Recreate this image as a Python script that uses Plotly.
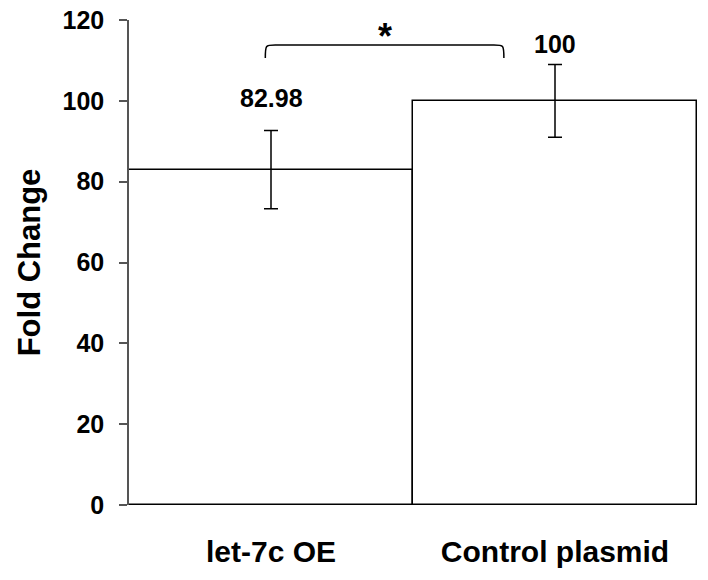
import plotly.graph_objects as go

# ---- data ----
categories = ["let-7c OE", "Control plasmid"]
fold_change = [82.98, 100]
errors = [9.7, 9.0]
value_labels = ["82.98", "100"]
y_ticks = [0, 20, 40, 60, 80, 100, 120]
significance = "*"

FONT = "Liberation Sans, Arial, sans-serif"

fig = go.Figure()
fig.add_trace(go.Bar(
    x=categories, y=fold_change,
    marker=dict(color="white", line=dict(color="black", width=1.5)),
    error_y=dict(type="data", array=errors, visible=True,
                 color="black", thickness=1.5, width=7),
    showlegend=False,
))

# value labels above error bars
label_shift = [16, 4]
for i, (c, v, e, t) in enumerate(zip(categories, fold_change, errors, value_labels)):
    fig.add_annotation(x=c, y=v + e, text=f"<b>{t}</b>", showarrow=False,
                       yanchor="bottom", yshift=label_shift[i],
                       font=dict(family=FONT, size=25, color="black"))

# significance bracket between the two groups
x0, x1 = -0.02, 0.82
y_top, y_end = 113.8, 110.6
rx = 0.035
path = (f"M {x0},{y_end} C {x0},{y_top} {x0},{y_top} {x0 + rx},{y_top} "
        f"L {x1 - rx},{y_top} C {x1},{y_top} {x1},{y_top} {x1},{y_end}")
fig.add_shape(type="path", path=path, xref="x", yref="y",
              line=dict(color="black", width=1.5))
fig.add_annotation(x=(x0 + x1) / 2, y=y_top, xref="x", yref="y",
                   text=f"<b>{significance}</b>", showarrow=False,
                   yanchor="bottom", yshift=-14,
                   font=dict(family=FONT, size=36, color="black"))

fig.update_layout(
    width=708, height=580,
    margin=dict(l=129, r=11, t=20, b=75, autoexpand=False),
    paper_bgcolor="white", plot_bgcolor="white",
    bargap=0,
    font=dict(family=FONT, color="black"),
)
fig.update_xaxes(
    showline=False, showgrid=False, ticks="", automargin=False,
    tickfont=dict(family=FONT, size=30, color="black", weight="bold"),
    ticklabelstandoff=26, ticklabeloverflow="allow",
)
fig.update_yaxes(
    range=[0, 120], tickvals=y_ticks, automargin=False,
    showgrid=False, zeroline=False,
    showline=True, linecolor="#555555", linewidth=1.5,
    ticks="outside", ticklen=8, tickcolor="#555555", tickwidth=1.5,
    tickfont=dict(family=FONT, size=25, color="black", weight="bold"),
    ticklabelstandoff=10, ticklabeloverflow="allow",
    title=dict(text="Fold Change", standoff=13,
               font=dict(family=FONT, size=31, color="black", weight="bold")),
)

# remove the default 8px page margin so the figure fills the window exactly
fig.write_html("out.html",
               config={"displayModeBar": False},
               post_script="document.body.style.margin='0';document.body.style.overflow='hidden';")
